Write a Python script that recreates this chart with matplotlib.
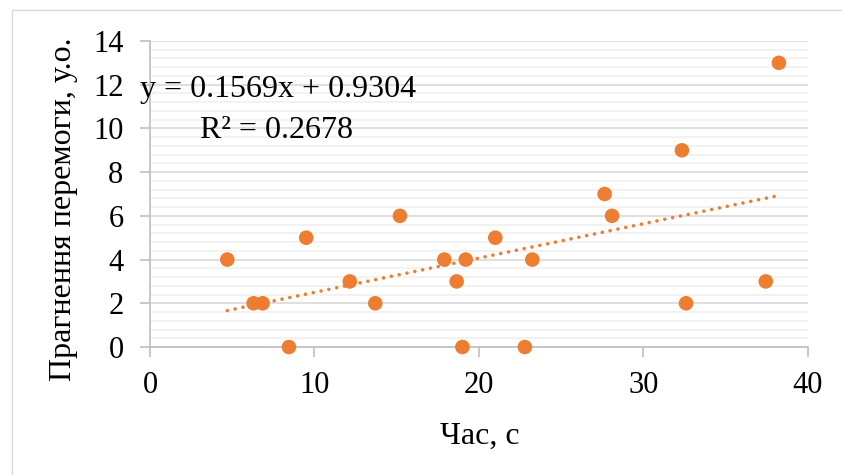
import numpy as np
import matplotlib
matplotlib.use("Agg")
import matplotlib.pyplot as plt
from matplotlib.patches import Rectangle
from matplotlib.ticker import MultipleLocator

# Time (s) and motivation-to-win score
time_s = [4.7, 6.3, 6.85, 9.5, 8.45, 12.15, 15.2, 13.7, 17.9, 19.2, 18.65,
          19.0, 21.0, 23.25, 22.8, 28.1, 27.65, 32.6, 37.45, 38.25, 32.35]
score = [4, 2, 2, 5, 0, 3, 6, 2, 4, 4, 3,
         0, 5, 4, 0, 6, 7, 2, 3, 13, 9]

slope, intercept = 0.1569, 0.9304
r2 = 0.2678

x_ticks = [0, 10, 20, 30, 40]
y_ticks = [0, 2, 4, 6, 8, 10, 12, 14]

plt.rcParams['font.family'] = ['Liberation Serif', 'DejaVu Serif']

orange = '#ED7D31'
spine_c = '#bfbfbf'

fig = plt.figure(figsize=(8.42, 4.75), dpi=100)
fig.patches.append(Rectangle((12 / 842, -0.1), 1.2, 1 - 10 / 475 + 0.1,
                             transform=fig.transFigure, fill=False,
                             edgecolor='#d9d9d9', linewidth=1.0))

ax = fig.add_axes([150 / 842, 1 - 347 / 475, (807.7 - 150) / 842, (347 - 41) / 475])
ax.set_xlim(0, 40)
ax.set_ylim(0, 14)

ax.yaxis.set_minor_locator(MultipleLocator(0.4))
ax.set_xticks(x_ticks)
ax.set_yticks(y_ticks)

ax.grid(axis='y', which='major', color='#d9d9d9', linewidth=1.2, zorder=0)
ax.grid(axis='y', which='minor', color='#f0f0f0', linewidth=1.2, zorder=0)
ax.set_axisbelow(True)

for s in ['top', 'right']:
    ax.spines[s].set_visible(False)
for s in ['left', 'bottom']:
    ax.spines[s].set_color(spine_c)
    ax.spines[s].set_linewidth(1.2)

ax.tick_params(axis='both', which='major', length=7, width=1.2, color=spine_c,
               labelsize=22, labelcolor='black')
ax.tick_params(axis='y', which='minor', length=0)
ax.tick_params(axis='x', which='major', pad=10)
ax.tick_params(axis='y', which='major', pad=12)

# Linear trend over the observed range
xf = np.array([min(time_s), max(time_s)])
ax.plot(xf, slope * xf + intercept, color=orange, linewidth=2.6,
        linestyle=(0, (0.01, 2.2)), dash_capstyle='round', zorder=2)

ax.scatter(time_s, score, s=10.5 ** 2, color=orange, edgecolors='none',
           zorder=3, clip_on=False)

fig.text(140 / 842, 1 - 90 / 475, f'y = {slope}x + {intercept}', fontsize=23,
         ha='left', va='center')
fig.text(277 / 842, 1 - 130 / 475, f'R² = {r2}', fontsize=23,
         ha='center', va='center')

fig.text(480 / 842, 1 - 436 / 475, 'Час, с', fontsize=23, ha='center', va='center')
fig.text(64 / 842, 1 - 209 / 475, 'Прагнення перемоги, у.о.', fontsize=23,
         ha='center', va='center', rotation=90)

fig.savefig('out.png', dpi=100, facecolor='white')
